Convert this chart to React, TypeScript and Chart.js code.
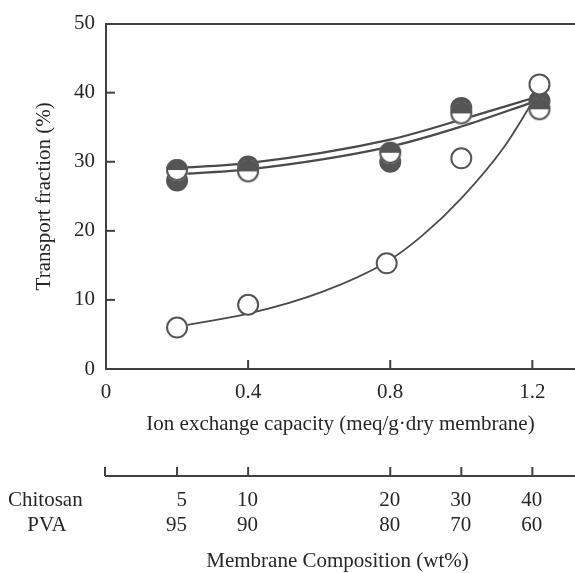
import React, { useEffect, useRef } from 'react';
import { Chart, registerables } from 'chart.js';

Chart.register(...registerables);

// ---- data ----
const openX = [0.2, 0.4, 0.79, 1.0, 1.22];
const openValues = [6.0, 9.3, 15.3, 30.5, 41.2];
const filledX = [0.2, 0.4, 0.8, 1.0, 1.22];
const filledValues = [27.3, 29.3, 30.0, 37.8, 38.8];
const halfX = [0.2, 0.4, 0.8, 1.0, 1.22];
const halfValues = [28.8, 28.6, 31.3, 37.0, 37.6];

const fitX = [0.2, 0.4, 0.8, 1.0, 1.2];
const fitUpper = [29.1, 29.8, 33.2, 36.1, 39.2];
const fitLower = [28.2, 28.9, 32.2, 35.1, 38.6];
const openFitX = [0.23, 0.4, 0.61, 0.79, 0.89, 1.0, 1.12, 1.2];
const openFit = [6.4, 8.0, 11.2, 15.5, 19.3, 24.7, 32.1, 38.6];

const xTickValues = [0, 0.4, 0.8, 1.2];
const xTickLabels = ['0', '0.4', '0.8', '1.2'];
const yTickValues = [0, 10, 20, 30, 40, 50];
const yInnerTicks = [10, 20, 30, 40];
const xInnerTicks = [0.4, 0.8, 1.2];
const compositionX = [0.2, 0.4, 0.8, 1.0, 1.2];
const chitosanPct = ['5', '10', '20', '30', '40'];
const pvaPct = ['95', '90', '80', '70', '60'];

const X_MAX = 1.32;
const TEXT = '#262626';
const AXIS = '#404040';
const MARK = '#555555';
const LINE = '#4a4a4a';
const FONT = "'Liberation Serif', 'Times New Roman', serif";

const pts = (xs: number[], ys: number[]) => xs.map((x, i) => ({ x, y: ys[i] }));

function makeHalfMarker(): HTMLCanvasElement {
  const c = document.createElement('canvas');
  c.width = 26;
  c.height = 26;
  const g = c.getContext('2d')!;
  const cx = 13, cy = 13, r = 11;
  g.beginPath();
  g.arc(cx, cy, r, 0, Math.PI * 2);
  g.fillStyle = '#ffffff';
  g.fill();
  g.beginPath();
  g.arc(cx, cy, r, Math.PI, Math.PI * 2);
  g.closePath();
  g.fillStyle = MARK;
  g.fill();
  g.beginPath();
  g.arc(cx, cy, r - 1, 0, Math.PI * 2);
  g.lineWidth = 2;
  g.strokeStyle = MARK;
  g.stroke();
  return c;
}

const overlay = {
  id: 'overlay',
  afterDraw(chart: any) {
    const { ctx, chartArea, scales } = chart;
    const xs = scales.x;
    const ys = scales.y;
    ctx.save();
    ctx.strokeStyle = AXIS;
    ctx.lineWidth = 2;
    const line = (x1: number, y1: number, x2: number, y2: number) => {
      ctx.beginPath();
      ctx.moveTo(x1, y1);
      ctx.lineTo(x2, y2);
      ctx.stroke();
    };
    for (const v of yInnerTicks) {
      const py = ys.getPixelForValue(v);
      line(chartArea.left, py, chartArea.left + 9, py);
    }
    for (const v of xInnerTicks) {
      const px = xs.getPixelForValue(v);
      line(px, chartArea.bottom, px, chartArea.bottom - 9);
    }
    // composition axis
    const axisY = chartArea.bottom + 107;
    const x0 = xs.getPixelForValue(0) - 1;
    line(x0, axisY, chartArea.right, axisY);
    line(x0, axisY, x0, axisY - 9);
    for (const v of compositionX) {
      const px = xs.getPixelForValue(v);
      line(px, axisY, px, axisY - 9);
    }
    ctx.fillStyle = TEXT;
    ctx.font = `21px ${FONT}`;
    ctx.textBaseline = 'middle';
    ctx.textAlign = 'left';
    ctx.fillText('Chitosan', 8, axisY + 24);
    ctx.textAlign = 'center';
    ctx.fillText('PVA', 47, axisY + 49);
    ctx.textAlign = 'right';
    compositionX.forEach((v, i) => {
      const px = xs.getPixelForValue(v) + 10;
      ctx.fillText(chitosanPct[i], px, axisY + 24);
      ctx.fillText(pvaPct[i], px, axisY + 49);
    });
    ctx.textAlign = 'center';
    ctx.fillText('Membrane Composition (wt%)', (chartArea.left + chartArea.right) / 2 - 3, axisY + 85);
    ctx.restore();
  },
};

export default function App() {
  const ref = useRef<HTMLCanvasElement>(null);
  useEffect(() => {
    if (!ref.current) return;
    const half = makeHalfMarker();
    const chart = new Chart(ref.current, {
      type: 'line',
      data: {
        datasets: [
          {
            label: 'open',
            data: pts(openX, openValues),
            showLine: false,
            pointStyle: 'circle',
            pointRadius: 10,
            pointBorderWidth: 2,
            pointBackgroundColor: '#ffffff',
            pointBorderColor: MARK,
            order: 0,
          },
          {
            label: 'half',
            data: pts(halfX, halfValues),
            showLine: false,
            pointStyle: half as any,
            pointRadius: 11,
            order: 1,
          },
          {
            label: 'filled',
            data: pts(filledX, filledValues),
            showLine: false,
            pointStyle: 'circle',
            pointRadius: 10,
            pointBorderWidth: 2,
            pointBackgroundColor: MARK,
            pointBorderColor: MARK,
            order: 2,
          },
          {
            label: 'fitUpper',
            data: pts(fitX, fitUpper),
            borderColor: LINE,
            borderWidth: 2.2,
            pointRadius: 0,
            cubicInterpolationMode: 'monotone',
            order: 3,
          },
          {
            label: 'fitLower',
            data: pts(fitX, fitLower),
            borderColor: LINE,
            borderWidth: 2.2,
            pointRadius: 0,
            cubicInterpolationMode: 'monotone',
            order: 4,
          },
          {
            label: 'openFit',
            data: pts(openFitX, openFit),
            borderColor: LINE,
            borderWidth: 1.8,
            pointRadius: 0,
            cubicInterpolationMode: 'monotone',
            order: 5,
          },
        ],
      },
      options: {
        animation: false,
        responsive: false,
        devicePixelRatio: 1,
        layout: { autoPadding: false, padding: { top: 19, left: 0, right: 0, bottom: 0 } },
        plugins: { legend: { display: false }, tooltip: { enabled: false } },
        font: { family: FONT, size: 21 },
        color: TEXT,
        scales: {
          x: {
            type: 'linear',
            position: 'bottom',
            min: 0,
            max: X_MAX,
            afterBuildTicks: (s: any) => {
              s.ticks = [...xTickValues, X_MAX].map((v) => ({ value: v }));
            },
            ticks: {
              padding: 11,
              autoSkip: false,
              maxRotation: 0,
              color: TEXT,
              font: { family: FONT, size: 21 },
              callback: (_v: any, i: number) => xTickLabels[i] ?? '',
            },
            grid: { display: false, drawTicks: false },
            border: { display: true, color: AXIS, width: 2 },
            title: {
              display: true,
              text: 'Ion exchange capacity (meq/g·dry membrane)',
              color: TEXT,
              font: { family: FONT, size: 21 },
              padding: { top: 0, bottom: 136 },
            },
            afterFit: (s: any) => {
              s.height = 204;
              s.paddingRight = 0;
            },
          },
          xTop: {
            type: 'linear',
            position: 'top',
            min: 0,
            max: X_MAX,
            ticks: { display: false, padding: 0 },
            grid: { display: false, drawTicks: false },
            border: { display: true, color: AXIS, width: 2 },
            afterFit: (s: any) => {
              s.height = 0;
              s.paddingRight = 0;
              s.paddingLeft = 0;
            },
          },
          y: {
            type: 'linear',
            min: 0,
            max: 50,
            afterBuildTicks: (s: any) => {
              s.ticks = yTickValues.map((v) => ({ value: v }));
            },
            ticks: { padding: 11, color: TEXT, font: { family: FONT, size: 21 } },
            grid: { display: false, drawTicks: false },
            border: { display: true, color: AXIS, width: 2 },
            title: {
              display: true,
              text: 'Transport fraction (%)',
              color: TEXT,
              font: { family: FONT, size: 21 },
              padding: { top: 32, bottom: 0 },
            },
            afterFit: (s: any) => {
              s.width = 106;
            },
          },
        },
      } as any,
      plugins: [overlay],
    });
    return () => chart.destroy();
  }, []);
  return (
    <canvas
      ref={ref}
      width={575}
      height={573}
      style={{ position: 'absolute', left: 0, top: 0, display: 'block', width: 575, height: 573 }}
    />
  );
}
